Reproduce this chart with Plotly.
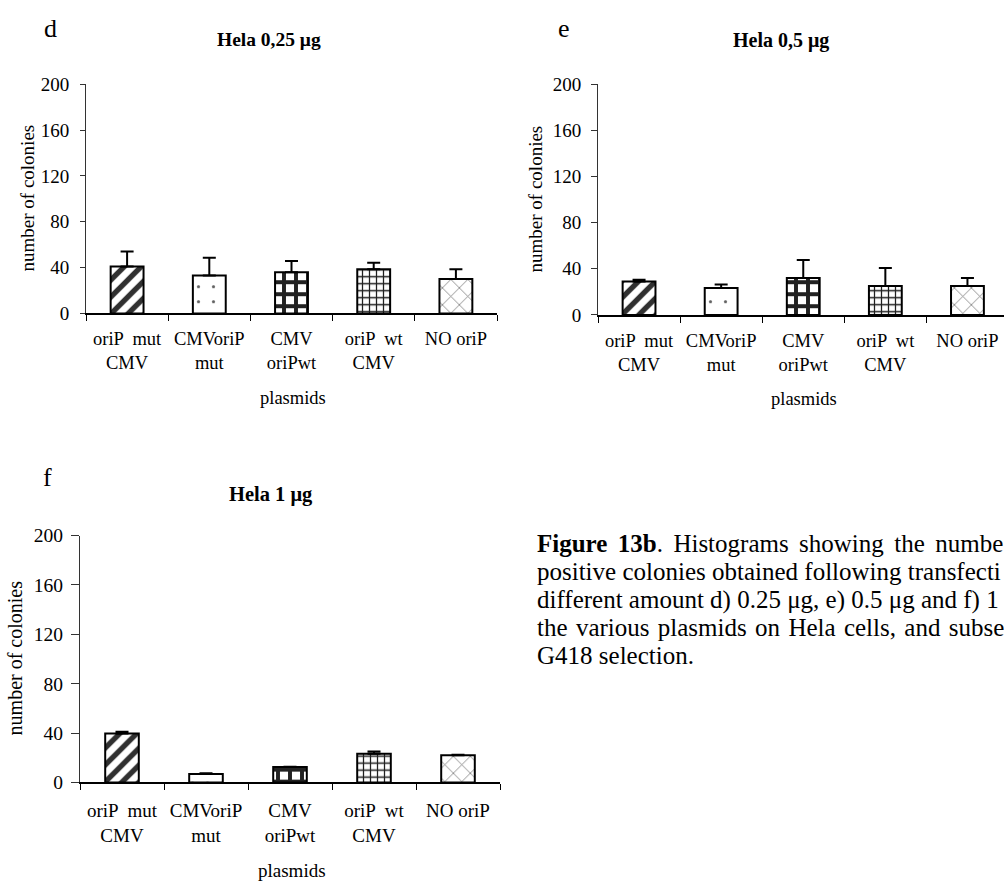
import plotly.graph_objects as go

W, H = 1004, 893
FONT = "Liberation Serif"

# ---------------- data ----------------
plasmids = ["oriP \u00a0mut<br>CMV", "CMVoriP<br>mut", "CMV<br>oriPwt", "oriP \u00a0wt<br>CMV", "NO oriP"]

d_counts = [41.0, 33.0, 36.0, 38.6, 30.0]
d_err = [13.0, 15.5, 9.8, 5.6, 8.5]

e_counts = [29.0, 23.4, 32.0, 25.0, 25.0]
e_err = [1.5, 2.9, 15.7, 15.7, 7.1]

f_counts = [39.7, 6.8, 12.4, 23.2, 22.1]
f_err = [1.3, 0.6, 0.3, 1.8, 0.3]

y_ticks = [0, 40, 80, 120, 160, 200]

panel_letters = ["d", "e", "f"]
panel_titles = ["Hela 0,25 μg", "Hela 0,5 μg", "Hela 1 μg"]
y_title = "number of colonies"
x_title = "plasmids"

# caption as visible in the (cropped) reference
WS1 = " \u200a\u200a"   # justified (wide) word space
WS4 = " \u200a"         # slightly widened word space
caption_lines = [
    "<b>Figure" + WS1 + "13b</b>." + WS1 + WS1.join(["Histograms", "showing", "the", "numbe"]),
    "positive colonies obtained following transfecti",
    "different amount d) 0.25 μg, e) 0.5 μg and f) 1",
    WS4.join(["the", "various", "plasmids", "on", "Hela", "cells,", "and", "subse"]),
    "G418 selection.",
]

# ---------------- styles ----------------
pat_shape = ["/", ".", "+", "+", "x"]
pat_fg = ["#303030", "#606060", "#222222", "#202020", "#7a7a7a"]
pat_size = [12, 15, 12, 7, 12]
pat_solid = [0.45, 0.035, 0.55, 0.33, 0.13]


def fx(p):
    return p / W


def fy(p):
    return 1 - p / H


# pixel geometry of each panel
panels = [
    dict(counts=d_counts, err=d_err, x0=86, x1=497, y0=310.7, y1=76, xr=[-0.5, 4.5],
         yticklen=5, ystand=7, xstand=8, fs=18.5),
    dict(counts=e_counts, err=e_err, x0=598, x1=1004, y0=312.3, y1=76,
         xr=[-0.5, -0.5 + (1004 - 598) / 82.1], yticklen=6, ystand=6, xstand=8, fs=18.5),
    dict(counts=f_counts, err=f_err, x0=80, x1=500, y0=791, y1=538.3, xr=[-0.5, 4.5],
         yticklen=8, ystand=4, xstand=10, fs=19),
]

fig = go.Figure()

for i, p in enumerate(panels):
    sfx = "" if i == 0 else str(i + 1)
    fig.add_trace(go.Bar(
        x=plasmids, y=p["counts"],
        xaxis="x" + sfx, yaxis="y" + sfx,
        width=0.4,
        marker=dict(
            color="white",
            line=dict(color="black", width=2),
            pattern=dict(shape=pat_shape, fgcolor=pat_fg, bgcolor="white",
                         size=pat_size, solidity=pat_solid, fillmode="replace"),
        ),
        error_y=dict(type="data", symmetric=False, array=p["err"],
                     arrayminus=[0] * len(p["err"]), color="black",
                     thickness=2, width=6.5),
        showlegend=False,
        hoverinfo="skip",
    ))
    fig.layout["xaxis" + sfx] = dict(
        domain=[fx(p["x0"]), fx(p["x1"])],
        range=p["xr"],
        anchor="y" + sfx,
        type="category",
        tickson="boundaries",
        ticks="outside", ticklen=6, tickwidth=1, tickcolor="black",
        showline=True, linecolor="black", linewidth=1.5,
        showgrid=False, zeroline=False,
        tickfont=dict(family=FONT, size=p["fs"], color="black"),
        ticklabelstandoff=p["xstand"],
        fixedrange=True,
    )
    fig.layout["yaxis" + sfx] = dict(
        domain=[fy(p["y0"]), fy(p["y1"])],
        range=[0, 200],
        anchor="x" + sfx,
        tickvals=y_ticks,
        ticks="outside", ticklen=p["yticklen"], tickwidth=1, tickcolor="#333333",
        showline=True, linecolor="#333333", linewidth=1,
        showgrid=False, zeroline=False,
        tickfont=dict(family=FONT, size=p["fs"] + 0.5, color="black"),
        ticklabelstandoff=p["ystand"],
        fixedrange=True,
    )


def note(text, x, y, size, **kw):
    d = dict(text=text, x=fx(x), y=fy(y), xref="paper", yref="paper",
             xanchor="center", yanchor="middle", showarrow=False,
             font=dict(family=FONT, size=size, color="black"))
    d.update(kw)
    return d


ann = []
for txt, (x, y) in zip(panel_letters, [(50, 19), (564, 19), (47, 479)]):
    ann.append(note(txt, x, y, 26))
for txt, (x, y), s in zip(panel_titles, [(269, 30.5), (781, 31.5), (271, 496)], [19.5, 20, 20.5]):
    ann.append(note("<b>" + txt + "</b>", x, y, s))
for (x, y), s in zip([(27, 193), (535, 194), (15, 664)], [19, 19, 20]):
    ann.append(note(y_title, x, y, s, textangle=-90))
for (x, y), s in zip([(292.5, 397), (803.5, 398.5), (291.7, 881)], [18.5, 18.5, 19]):
    ann.append(note(x_title, x, y, s))
for k, line in enumerate(caption_lines):
    ann.append(note(line, 535, 546.3 + 28.75 * k, 25, xanchor="left", align="left"))

fig.update_layout(
    width=W, height=H,
    margin=dict(l=0, r=0, t=0, b=0),
    paper_bgcolor="white", plot_bgcolor="white",
    annotations=ann,
)

fig.write_html("out.html")
